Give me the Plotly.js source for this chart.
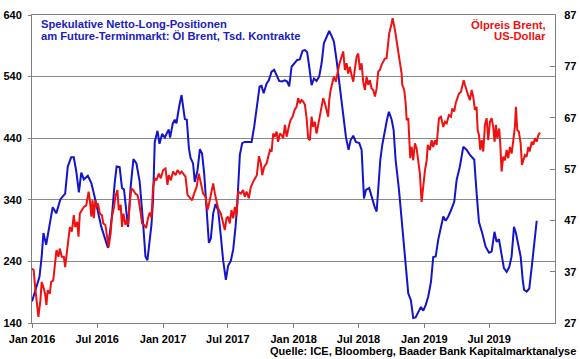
<!DOCTYPE html>
<html>
<head>
<meta charset="utf-8">
<script src="https://cdn.plot.ly/plotly-3.0.1.min.js"></script>
<style>html,body{margin:0;padding:0;background:#fff;}#chart{width:580px;height:359px;}</style>
</head>
<body>
<div id="chart"></div>
<script>
// Spekulative Netto-Long-Positionen (Tsd. Kontrakte), time in decimal years
const blueT = [2016.000,2016.031,2016.057,2016.074,2016.087,2016.108,2016.133,2016.158,2016.185,2016.217,2016.253,2016.273,2016.299,2016.319,2016.338,2016.358,2016.376,2016.396,2016.426,2016.453,2016.478,2016.529,2016.580,2016.610,2016.631,2016.646,2016.669,2016.687,2016.702,2016.721,2016.733,2016.753,2016.774,2016.797,2016.822,2016.848,2016.866,2016.881,2016.897,2016.912,2016.924,2016.937,2016.958,2016.973,2016.993,2017.014,2017.029,2017.044,2017.054,2017.075,2017.090,2017.103,2017.123,2017.142,2017.154,2017.167,2017.182,2017.198,2017.211,2017.230,2017.243,2017.264,2017.282,2017.299,2017.315,2017.333,2017.351,2017.366,2017.384,2017.402,2017.422,2017.443,2017.460,2017.481,2017.498,2017.519,2017.537,2017.555,2017.570,2017.588,2017.606,2017.626,2017.652,2017.678,2017.698,2017.724,2017.739,2017.754,2017.770,2017.793,2017.810,2017.831,2017.851,2017.874,2017.889,2017.910,2017.933,2017.950,2017.966,2017.984,2018.009,2018.027,2018.047,2018.068,2018.086,2018.103,2018.119,2018.137,2018.155,2018.175,2018.195,2018.214,2018.231,2018.252,2018.272,2018.290,2018.308,2018.328,2018.348,2018.374,2018.400,2018.420,2018.436,2018.456,2018.476,2018.502,2018.520,2018.538,2018.553,2018.578,2018.599,2018.619,2018.635,2018.650,2018.663,2018.678,2018.698,2018.714,2018.729,2018.750,2018.765,2018.780,2018.806,2018.831,2018.857,2018.877,2018.897,2018.915,2018.933,2018.953,2018.974,2018.992,2019.010,2019.030,2019.051,2019.068,2019.087,2019.106,2019.127,2019.145,2019.163,2019.183,2019.204,2019.229,2019.247,2019.272,2019.298,2019.324,2019.349,2019.382,2019.400,2019.418,2019.443,2019.469,2019.495,2019.515,2019.537,2019.553,2019.571,2019.589,2019.609,2019.630,2019.650,2019.668,2019.686,2019.701,2019.719,2019.737,2019.753,2019.763,2019.783,2019.803,2019.822,2019.843,2019.860];
const blueV = [175,199,215,248,286,267,296,328,318,341,350,394,409,409,386,352,384,373,379,367,345,296,262,313,367,394,393,359,357,313,296,361,406,399,369,302,248,242,275,300,340,434,452,431,447,441,448,454,441,464,470,464,491,510,491,471,470,424,408,399,369,388,422,415,383,329,270,277,318,333,323,280,242,210,233,241,259,296,340,413,432,434,434,434,459,497,524,525,513,529,534,548,551,540,533,532,534,532,524,556,562,567,568,582,583,580,556,526,537,533,540,562,594,605,614,606,597,567,534,486,442,421,437,444,434,432,421,342,356,359,342,329,321,375,405,429,453,470,483,470,453,405,356,296,231,188,177,148,149,158,166,160,169,183,207,247,248,275,294,313,306,313,323,337,372,394,426,421,413,405,351,304,286,264,254,256,288,272,276,253,229,223,231,248,296,286,269,248,210,194,191,196,231,275,306];

// Ölpreis Brent (US-Dollar), time in decimal years
const redT = [2016.000,2016.013,2016.024,2016.039,2016.049,2016.064,2016.074,2016.090,2016.100,2016.110,2016.120,2016.136,2016.146,2016.162,2016.177,2016.187,2016.202,2016.212,2016.227,2016.243,2016.253,2016.269,2016.279,2016.289,2016.304,2016.319,2016.330,2016.345,2016.355,2016.365,2016.381,2016.396,2016.414,2016.432,2016.442,2016.453,2016.462,2016.472,2016.483,2016.493,2016.503,2016.518,2016.534,2016.544,2016.560,2016.575,2016.585,2016.600,2016.610,2016.626,2016.636,2016.652,2016.662,2016.677,2016.687,2016.698,2016.713,2016.723,2016.733,2016.748,2016.759,2016.774,2016.789,2016.805,2016.815,2016.830,2016.840,2016.855,2016.871,2016.886,2016.899,2016.912,2016.924,2016.937,2016.950,2016.968,2016.983,2017.001,2017.019,2017.034,2017.044,2017.060,2017.077,2017.096,2017.111,2017.129,2017.142,2017.154,2017.172,2017.188,2017.205,2017.223,2017.238,2017.257,2017.274,2017.289,2017.307,2017.325,2017.341,2017.358,2017.371,2017.384,2017.397,2017.410,2017.422,2017.443,2017.458,2017.473,2017.486,2017.498,2017.511,2017.524,2017.537,2017.550,2017.563,2017.575,2017.596,2017.613,2017.626,2017.639,2017.657,2017.672,2017.690,2017.703,2017.718,2017.734,2017.749,2017.759,2017.774,2017.793,2017.805,2017.818,2017.831,2017.843,2017.856,2017.869,2017.881,2017.894,2017.907,2017.920,2017.933,2017.946,2017.966,2017.976,2017.992,2018.007,2018.022,2018.034,2018.047,2018.060,2018.073,2018.086,2018.099,2018.111,2018.124,2018.137,2018.149,2018.162,2018.175,2018.188,2018.201,2018.214,2018.226,2018.239,2018.252,2018.264,2018.272,2018.283,2018.298,2018.308,2018.323,2018.333,2018.348,2018.367,2018.379,2018.392,2018.405,2018.417,2018.430,2018.443,2018.456,2018.469,2018.482,2018.494,2018.507,2018.520,2018.532,2018.545,2018.558,2018.570,2018.583,2018.596,2018.609,2018.622,2018.635,2018.647,2018.660,2018.673,2018.686,2018.698,2018.711,2018.724,2018.731,2018.750,2018.757,2018.775,2018.788,2018.800,2018.813,2018.826,2018.831,2018.846,2018.857,2018.865,2018.877,2018.882,2018.892,2018.903,2018.915,2018.928,2018.941,2018.953,2018.966,2018.979,2018.992,2019.005,2019.018,2019.026,2019.043,2019.056,2019.068,2019.081,2019.094,2019.112,2019.127,2019.145,2019.158,2019.171,2019.188,2019.204,2019.214,2019.229,2019.240,2019.255,2019.265,2019.280,2019.290,2019.301,2019.311,2019.324,2019.335,2019.349,2019.362,2019.374,2019.387,2019.400,2019.408,2019.418,2019.428,2019.439,2019.451,2019.464,2019.477,2019.489,2019.502,2019.515,2019.527,2019.538,2019.548,2019.558,2019.573,2019.581,2019.591,2019.604,2019.617,2019.630,2019.642,2019.655,2019.668,2019.681,2019.693,2019.701,2019.711,2019.723,2019.737,2019.747,2019.757,2019.770,2019.783,2019.796,2019.806,2019.822,2019.834,2019.847,2019.860,2019.872,2019.885];
const redV = [37.6,37.3,34.0,30.1,28.2,31.4,35.0,33.7,32.7,30.5,33.4,32.7,35.0,35.3,39.2,41.2,39.9,41.5,39.9,39.9,37.9,41.8,43.8,45.7,44.8,48.0,45.7,46.7,43.8,48.3,49.0,49.6,49.9,52.6,50.9,47.7,50.9,47.4,50.9,49.6,50.3,48.3,48.0,46.4,46.1,43.8,41.8,44.4,47.7,49.6,51.6,52.9,49.0,50.0,45.7,48.3,46.1,47.0,46.1,50.9,53.2,52.9,52.2,51.9,50.9,48.3,46.4,46.1,45.5,47.5,48.5,47.5,53.5,55.2,54.8,56.1,55.2,56.8,57.1,53.9,55.8,54.8,56.5,55.8,56.8,56.1,56.5,56.1,55.5,51.9,51.3,50.9,52.2,53.5,56.1,54.5,52.2,51.6,49.0,50.9,52.6,54.2,52.2,50.3,49.3,48.3,46.4,45.1,47.4,47.7,46.4,49.0,47.4,49.6,48.0,52.6,52.2,52.9,51.6,52.6,51.3,53.5,54.5,55.2,55.8,59.5,58.1,55.8,57.4,58.1,59.4,60.7,60.4,63.9,63.3,64.3,62.3,63.9,63.6,63.0,65.6,63.3,65.6,66.5,67.2,68.5,69.1,70.8,69.8,70.4,70.1,69.5,66.9,63.0,62.6,67.2,65.2,66.2,63.9,65.6,67.2,68.5,70.8,69.8,68.5,67.2,70.4,72.4,74.0,75.0,74.0,75.3,77.3,78.9,79.9,76.3,77.6,75.6,76.9,75.3,74.0,76.6,78.9,79.5,76.3,77.6,74.0,72.4,75.0,73.4,74.3,72.7,72.4,71.1,72.7,76.0,76.3,77.3,77.8,78.5,78.6,81.5,83.4,85.4,86.4,84.1,81.8,79.5,77.5,75.6,73.4,72.4,69.8,66.5,66.9,63.3,59.1,61.3,58.7,62.0,61.0,58.7,56.1,50.6,54.2,56.8,58.7,61.7,60.7,62.6,61.3,62.6,61.7,66.9,67.2,65.2,66.2,65.9,67.5,67.2,68.8,68.2,69.8,71.1,71.7,72.0,73.0,74.3,73.4,72.0,71.4,70.4,72.4,71.1,68.5,69.1,64.6,63.6,60.7,62.6,60.4,65.6,66.9,62.6,66.2,66.9,65.2,62.3,65.6,63.0,64.9,62.0,56.5,59.4,58.7,60.7,59.1,61.3,60.0,62.6,65.2,69.1,64.6,64.3,62.0,57.8,58.7,59.7,59.4,61.3,60.4,62.3,61.7,63.0,62.3,63.6,64.1];

const xTicks = ['2016-01-01','2016-07-01','2017-01-01','2017-07-01','2018-01-01','2018-07-01','2019-01-01','2019-07-01'];
const xTickText = ['Jan 2016','Jul 2016','Jan 2017','Jul 2017','Jan 2018','Jul 2018','Jan 2019','Jul 2019'];
const leftTicks = [140,240,340,440,540,640];
const rightTicks = [27,37,47,57,67,77,87];

function toDate(v){
  const y = Math.floor(v), f = v - y;
  const s = Date.UTC(y,0,1), e = Date.UTC(y+1,0,1);
  return new Date(s + f*(e-s)).toISOString();
}

const F = 'Liberation Sans, Arial, sans-serif';
const AX = '#808080';

const traces = [
  {x: blueT.map(toDate), y: blueV, type:'scatter', mode:'lines', yaxis:'y',
   line:{color:'#1414c8', width:2}, hoverinfo:'skip'},
  {x: redT.map(toDate), y: redV, type:'scatter', mode:'lines', yaxis:'y2',
   line:{color:'#ee1111', width:2}, hoverinfo:'skip'}
];

const layout = {
  width:580, height:359,
  margin:{l:32, r:25, t:15, b:36},
  paper_bgcolor:'#fff', plot_bgcolor:'#fff',
  showlegend:false,
  xaxis:{type:'date', range:['2016-01-01','2020-01-01'], tickvals:xTicks, ticktext:xTickText,
    showgrid:false, showline:true, linecolor:AX, linewidth:1, mirror:true,
    ticks:'outside', ticklen:4, tickcolor:AX, ticklabelstandoff:2,
    tickfont:{family:F, size:11, color:'#000', weight:'bold'}, zeroline:false},
  yaxis:{range:[140,640], tickvals:leftTicks, ticktext:leftTicks.map(String), showgrid:true,
    gridcolor:'#8a8a8a', gridwidth:1, showline:true, linecolor:AX, linewidth:1,
    ticks:'outside', ticklen:3, tickcolor:AX, ticklabelstandoff:4,
    tickfont:{family:F, size:11, color:'#000', weight:'bold'}, zeroline:false},
  yaxis2:{range:[27,87], tickvals:rightTicks, ticktext:rightTicks.map(String), overlaying:'y', side:'right',
    showgrid:false, showline:true, linecolor:AX, linewidth:1,
    ticks:'inside', ticklen:5, tickcolor:AX, ticklabelstandoff:6,
    tickfont:{family:F, size:11, color:'#000', weight:'bold'}, zeroline:false},
  annotations:[
    {text:'Spekulative Netto-Long-Positionen', xref:'paper', yref:'paper', x:(39-32)/523, y:(323-24)/308,
     xanchor:'left', yanchor:'middle', showarrow:false, font:{family:F, size:11.2, color:'#2020c0', weight:'bold'}},
    {text:'am Future-Terminmarkt: Öl Brent, Tsd. Kontrakte', xref:'paper', yref:'paper', x:(39-32)/523, y:(323-36)/308,
     xanchor:'left', yanchor:'middle', showarrow:false, font:{family:F, size:11.2, color:'#2020c0', weight:'bold'}},
    {text:'Ölpreis Brent,', xref:'paper', yref:'paper', x:(548-32)/523, y:(323-25)/308,
     xanchor:'right', yanchor:'middle', showarrow:false, font:{family:F, size:11.3, color:'#ee1111', weight:'bold'}},
    {text:'US-Dollar', xref:'paper', yref:'paper', x:(548-32)/523, y:(323-36)/308,
     xanchor:'right', yanchor:'middle', showarrow:false, font:{family:F, size:11.3, color:'#ee1111', weight:'bold'}},
    {text:'Quelle: ICE, Bloomberg, Baader Bank Kapitalmarktanalyse', xref:'paper', yref:'paper', x:(578-32)/523, y:(323-351)/308,
     xanchor:'right', yanchor:'middle', showarrow:false, font:{family:F, size:11, color:'#000', weight:'bold'}}
  ]
};

Plotly.newPlot('chart', traces, layout, {displayModeBar:false, staticPlot:true});
</script>
</body>
</html>
